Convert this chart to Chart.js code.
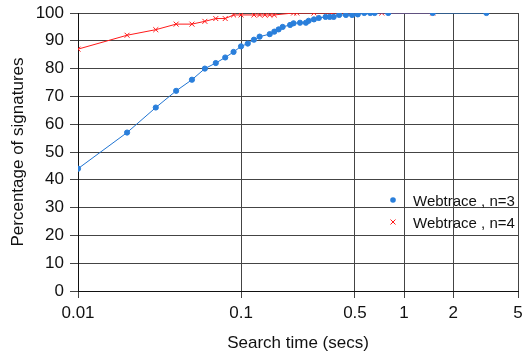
<!DOCTYPE html>
<html>
<head>
<meta charset="utf-8">
<script src="https://cdn.jsdelivr.net/npm/chart.js@4/dist/chart.umd.min.js"></script>
<style>
  html, body { margin: 0; padding: 0; background: #fff; }
  #wrap { width: 528px; height: 354px; }
</style>
</head>
<body>
<div id="wrap"><canvas id="chart"></canvas></div>
<script>
const xTicks = [0.01, 0.1, 0.5, 1, 2, 5];

const n3Times = [0.01, 0.02, 0.03, 0.04, 0.05, 0.06, 0.07, 0.08, 0.09, 0.1, 0.11, 0.12, 0.13, 0.15, 0.16, 0.17, 0.18, 0.2, 0.21, 0.23, 0.25, 0.26, 0.28, 0.3, 0.33, 0.35, 0.37, 0.4, 0.44, 0.48, 0.52, 0.57, 0.62, 0.66, 0.8, 1.5, 3.2];
const n3Values = [44, 57, 66, 72, 76, 80, 82, 84, 86, 88, 89, 90.4, 91.5, 92.4, 93.3, 94.1, 95, 95.7, 96.3, 96.5, 96.5, 97.2, 97.7, 98.2, 98.6, 98.6, 98.6, 99.3, 99.3, 99.3, 99.5, 100, 100, 100, 100, 100, 100];

const n4Times = [0.01, 0.02, 0.03, 0.04, 0.05, 0.06, 0.07, 0.08, 0.09, 0.1, 0.12, 0.13, 0.14, 0.15, 0.16, 0.21, 0.22, 0.28, 0.36, 0.73, 1.5];
const n4Values = [87, 92, 94, 96, 96, 97, 98, 98, 99.3, 99.3, 99.3, 99.3, 99.3, 99.3, 99.3, 100, 100, 100, 100, 100, 100];

const FONT = 'Liberation Sans, Arial, Helvetica, sans-serif';

function toPoints(xs, ys) {
  return xs.map((x, i) => ({ x: x, y: ys[i] }));
}

// legend drawn inside the plot, no box behind it
const insideLegend = {
  id: 'insideLegend',
  afterDraw(chart) {
    const ctx = chart.ctx;
    const rows = [200, 222];
    ctx.save();
    ctx.font = '15px ' + FONT;
    ctx.textBaseline = 'middle';
    chart.data.datasets.forEach((ds, i) => {
      const y = rows[i];
      const x = 393;
      if (ds.pointStyle === 'circle') {
        ctx.fillStyle = ds.pointBackgroundColor;
        ctx.beginPath();
        ctx.arc(x, y, 2.8, 0, Math.PI * 2);
        ctx.fill();
      } else {
        ctx.strokeStyle = ds.borderColor;
        ctx.lineWidth = 1;
        ctx.beginPath();
        ctx.moveTo(x - 2.5, y - 2.5); ctx.lineTo(x + 2.5, y + 2.5);
        ctx.moveTo(x + 2.5, y - 2.5); ctx.lineTo(x - 2.5, y + 2.5);
        ctx.stroke();
      }
      ctx.fillStyle = '#111';
      ctx.fillText(ds.label, 413, y + 2);
    });
    ctx.restore();
  }
};

new Chart(document.getElementById('chart'), {
  type: 'line',
  data: {
    datasets: [
      {
        label: 'Webtrace , n=3',
        data: toPoints(n3Times, n3Values),
        borderColor: '#1f74d2',
        backgroundColor: '#1f74d2',
        pointBackgroundColor: '#2a7fdb',
        pointBorderColor: '#2a7fdb',
        pointStyle: 'circle',
        pointRadius: 2.6,
        borderWidth: 1,
        tension: 0
      },
      {
        label: 'Webtrace , n=4',
        data: toPoints(n4Times, n4Values),
        borderColor: '#ff1a1a',
        backgroundColor: '#ff1a1a',
        pointBorderColor: '#ff1a1a',
        pointStyle: 'crossRot',
        pointRadius: 3.5,
        pointBorderWidth: 1,
        borderWidth: 1,
        tension: 0
      }
    ]
  },
  options: {
    responsive: true,
    maintainAspectRatio: false,
    animation: false,
    layout: { padding: { top: 13, right: 10, left: 8, bottom: 0 } },
    plugins: {
      legend: { display: false },
      tooltip: { enabled: false }
    },
    scales: {
      x: {
        type: 'logarithmic',
        min: 0.01,
        max: 5,
        afterBuildTicks: scale => { scale.ticks = xTicks.map(v => ({ value: v })); },
        afterFit: scale => { scale.height = 63; },
        ticks: {
          autoSkip: false,
          maxRotation: 0,
          color: '#111',
          font: { family: FONT, size: 17 },
          padding: 5,
          callback: v => String(v)
        },
        grid: { color: '#444', lineWidth: 1, tickLength: 7, drawTicks: true },
        border: { color: '#111', width: 1 },
        title: {
          display: true,
          text: 'Search time (secs)',
          color: '#111',
          font: { family: FONT, size: 17 },
          padding: { top: 1, bottom: 0 }
        }
      },
      y: {
        min: 0,
        max: 100,
        afterFit: scale => {
          scale.width = 70;
          scale.paddingTop = 0;
          scale.paddingBottom = 0;
        },
        ticks: {
          stepSize: 10,
          color: '#111',
          font: { family: FONT, size: 17 },
          padding: 6
        },
        grid: { color: '#444', lineWidth: 1, tickLength: 8 },
        border: { color: '#111', width: 1 },
        title: {
          display: true,
          text: 'Percentage of signatures',
          color: '#111',
          font: { family: FONT, size: 17 },
          padding: { top: 0, bottom: 2 }
        }
      }
    }
  },
  plugins: [insideLegend]
});
</script>
</body>
</html>
